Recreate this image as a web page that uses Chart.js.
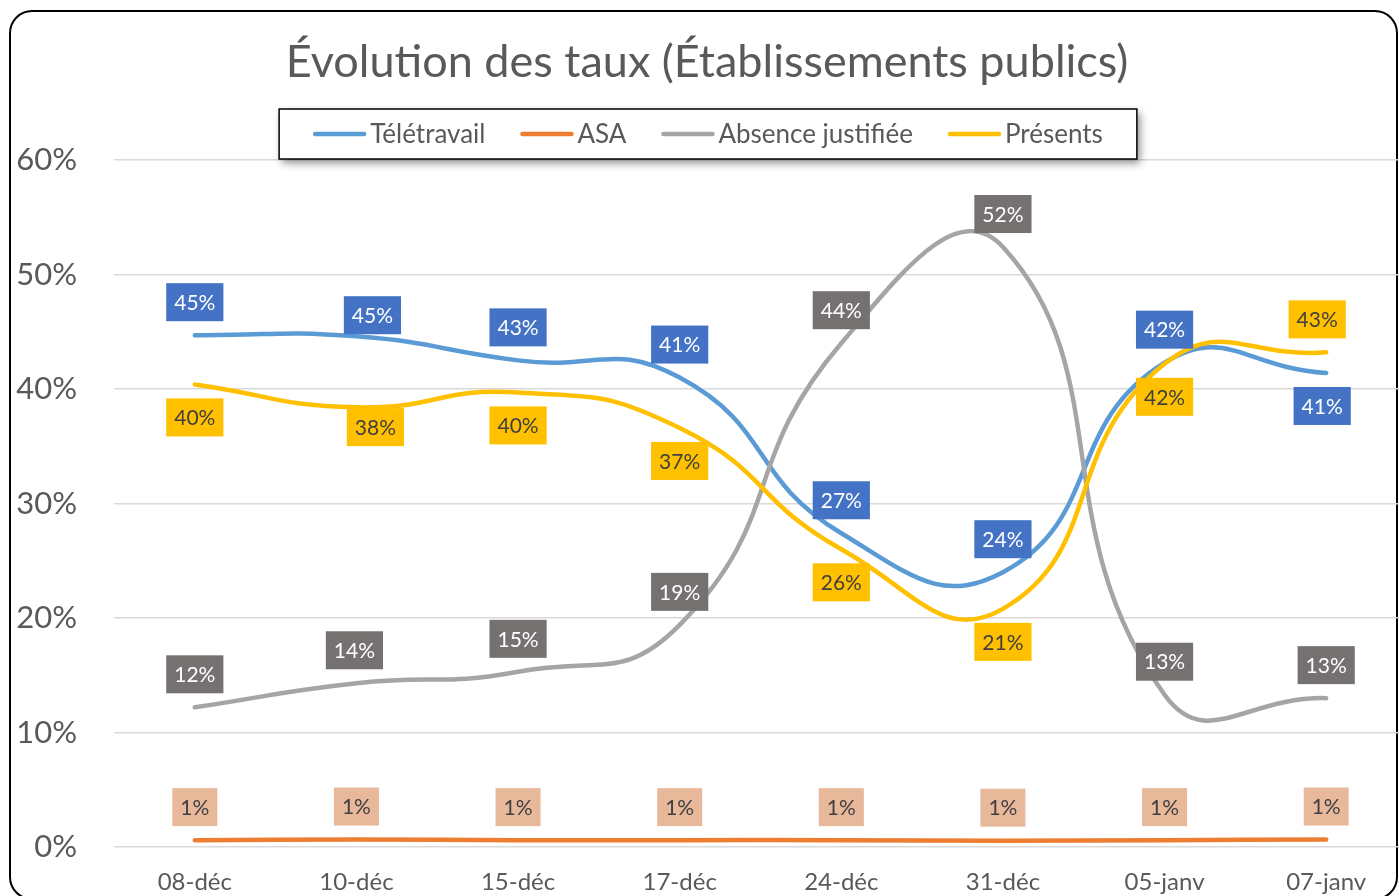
<!DOCTYPE html>
<html lang="fr">
<head>
<meta charset="utf-8">
<title>Évolution des taux</title>
<script src="https://cdn.jsdelivr.net/npm/chart.js@4.4.1/dist/chart.umd.min.js"></script>
<style>
  html, body { margin: 0; padding: 0; background: #fff; overflow: hidden; }
  #wrap { width: 1399px; height: 896px; overflow: hidden; position: relative; }
  canvas { display: block; }
</style>
</head>
<body>
<div id="wrap"><canvas id="tauxChart" width="1420" height="896"></canvas></div>
<script>
// données (en %)
const dates = ['08-déc', '10-déc', '15-déc', '17-déc', '24-déc', '31-déc', '05-janv', '07-janv'];
const teletravail = [44.7, 44.6, 42.5, 41.0, 27.4, 24.0, 42.3, 41.4];
const asa = [0.6, 0.65, 0.6, 0.6, 0.6, 0.55, 0.6, 0.65];
const absenceJustifiee = [12.2, 14.3, 15.3, 19.4, 44.0, 52.4, 13.3, 13.0];
const presents = [40.4, 38.4, 39.7, 36.6, 26.0, 20.8, 42.2, 43.2];
const yMin = 0, yMax = 60, yStep = 10;

const TITRE = 'Évolution des taux (Établissements publics)';
const POLICE = 'Lato, "Open Sans", sans-serif';
const GRIS_TEXTE = '#595959';

// position des étiquettes : au-dessus (<0) ou en dessous (>0) du point
// (les étiquettes du 10-déc ont été déplacées à la main dans l'original)
const cote = {
    teletravail: [-1, -0.64, -1, -1, -1, -1, -1, 1],
    asa: [-1, -1, -1, -1, -1, -1, -1, -1],
    absence: [-1, -1, -1, -1, -1, -1, -1, -1],
    presents: [1, 0.6, 1, 1, 1, 1, 1, -1]
};
const decalX = {
    teletravail: [0, 16, 0, 0, 0, 0, 0, -4],
    asa: [0, 0, 0, 0, 0, 0, 0, 0],
    absence: [0, -2, 0, 0, 0, 0, 0, 0],
    presents: [0, 19, 0, 0, 0, 0, 0, -9]
};

function serie(label, data, couleur, fondEtiq, texteEtiq, cles, ordre) {
    return {
        label: label,
        data: data,
        borderColor: couleur,
        backgroundColor: couleur,
        borderWidth: 4.5,
        borderCapStyle: 'round',
        borderJoinStyle: 'round',
        tension: 0.5,
        fill: false,
        pointRadius: 0,
        pointHoverRadius: 0,
        order: ordre,
        etiqFond: fondEtiq,
        etiqTexte: texteEtiq,
        etiqCote: cote[cles],
        etiqDx: decalX[cles]
    };
}

// cadre arrondi + fond blanc
const cadrePlugin = {
    id: 'cadre',
    beforeDraw(chart) {
        const ctx = chart.ctx;
        ctx.save();
        ctx.fillStyle = '#fff';
        ctx.fillRect(0, 0, chart.width, chart.height);
        ctx.beginPath();
        ctx.roundRect(10, 11, 1387, 888, 22);
        ctx.lineWidth = 2;
        ctx.strokeStyle = '#000';
        ctx.stroke();
        ctx.restore();
    }
};

// titre + légende encadrée avec ombre
const titreLegendePlugin = {
    id: 'titreLegende',
    afterDraw(chart) {
        const ctx = chart.ctx;
        ctx.save();
        ctx.fillStyle = GRIS_TEXTE;
        ctx.font = '45px ' + POLICE;
        ctx.textAlign = 'center';
        ctx.textBaseline = 'middle';
        ctx.fillText(TITRE, 707, 62);

        ctx.font = '26px ' + POLICE;
        const trait = 53, ecart = 4, sep = 35, marge = 34;
        const ds = chart.data.datasets;
        const largeurs = ds.map(d => ctx.measureText(d.label).width);
        let total = 0;
        largeurs.forEach((w, i) => { total += trait + ecart + w + (i < ds.length - 1 ? sep : 0); });
        const boxW = total + marge * 2, boxH = 50;
        const boxX = 708 - boxW / 2, boxY = 109;

        ctx.save();
        ctx.shadowColor = 'rgba(0,0,0,0.45)';
        ctx.shadowBlur = 8;
        ctx.shadowOffsetX = 3;
        ctx.shadowOffsetY = 4;
        ctx.fillStyle = '#fff';
        ctx.fillRect(boxX, boxY, boxW, boxH);
        ctx.restore();
        ctx.lineWidth = 1.5;
        ctx.strokeStyle = '#000';
        ctx.strokeRect(boxX, boxY, boxW, boxH);

        let x = boxX + marge;
        const y = boxY + boxH / 2;
        ctx.textAlign = 'left';
        ds.forEach((d, i) => {
            ctx.beginPath();
            ctx.lineCap = 'round';
            ctx.lineWidth = 4.5;
            ctx.strokeStyle = d.borderColor;
            ctx.moveTo(x + 2, y);
            ctx.lineTo(x + trait - 2, y);
            ctx.stroke();
            ctx.fillStyle = GRIS_TEXTE;
            ctx.fillText(d.label, x + trait + ecart, y + 1);
            x += trait + ecart + largeurs[i] + sep;
        });
        ctx.restore();
    }
};

// étiquettes de données dans des cases colorées
const etiquettesPlugin = {
    id: 'etiquettes',
    afterDatasetsDraw(chart) {
        const ctx = chart.ctx;
        ctx.save();
        ctx.font = '21px ' + POLICE;
        ctx.textAlign = 'center';
        ctx.textBaseline = 'middle';
        chart.data.datasets.forEach((d, i) => {
            const meta = chart.getDatasetMeta(i);
            meta.data.forEach((pt, j) => {
                const txt = Math.round(d.data[j]) + '%';
                const w = ctx.measureText(txt).width + 16;
                const h = 38;
                const cx = pt.x + d.etiqDx[j];
                const cy = pt.y + d.etiqCote[j] * 33;
                ctx.fillStyle = d.etiqFond;
                ctx.fillRect(cx - w / 2, cy - h / 2, w, h);
                ctx.fillStyle = d.etiqTexte;
                ctx.fillText(txt, cx, cy + 1);
            });
        });
        ctx.restore();
    }
};

document.addEventListener('DOMContentLoaded', function() {
    const el = document.getElementById('tauxChart');

    const config = {
        type: 'line',
        data: {
            labels: dates,
            datasets: [
                serie('Télétravail', teletravail, '#5B9BD5', '#4472C4', '#ffffff', 'teletravail', 3),
                serie('ASA', asa, '#ED7D31', '#E8B89B', '#404040', 'asa', 2),
                serie('Absence justifiée', absenceJustifiee, '#A5A5A5', '#767171', '#ffffff', 'absence', 1),
                serie('Présents', presents, '#FFC000', '#FFC000', '#404040', 'presents', 0)
            ]
        },
        options: {
            responsive: false,
            animation: false,
            devicePixelRatio: 1,
            layout: {
                padding: { top: 160, left: 10, right: 13, bottom: 0 }
            },
            scales: {
                x: {
                    type: 'category',
                    offset: true,
                    grid: { display: false, drawTicks: false },
                    border: { display: false },
                    ticks: {
                        color: GRIS_TEXTE,
                        font: { family: POLICE, size: 24 },
                        padding: 21,
                        maxRotation: 0,
                        autoSkip: false
                    },
                    afterFit(scale) { scale.height = 49; }
                },
                y: {
                    min: yMin,
                    max: yMax,
                    grid: {
                        color: '#d9d9d9',
                        lineWidth: 1.5,
                        drawTicks: true,
                        tickLength: 12,
                        tickColor: 'rgba(0,0,0,0)'
                    },
                    border: { display: false },
                    ticks: {
                        stepSize: yStep,
                        color: GRIS_TEXTE,
                        font: { family: POLICE, size: 31 },
                        padding: 25,
                        callback: v => v + '%'
                    },
                    afterFit(scale) { scale.width = 104; }
                }
            },
            plugins: {
                legend: { display: false },
                title: { display: false },
                tooltip: { enabled: false }
            }
        },
        plugins: [cadrePlugin, etiquettesPlugin, titreLegendePlugin]
    };

    new Chart(el, config);
});
</script>
</body>
</html>
